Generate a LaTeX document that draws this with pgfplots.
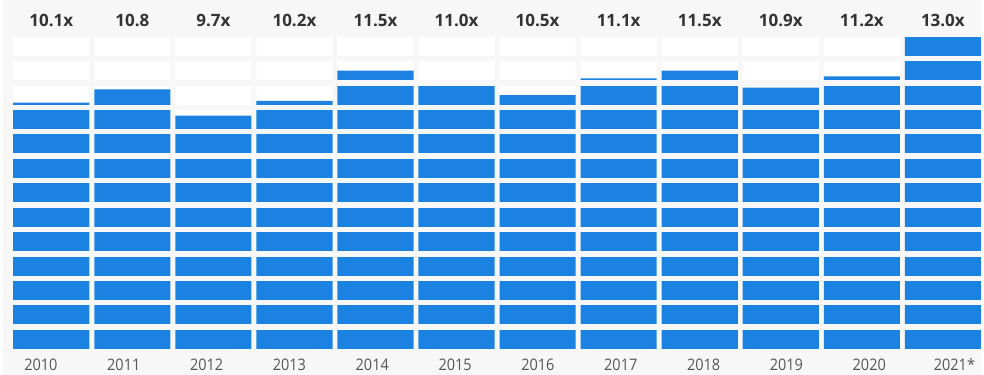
\documentclass[border=0pt]{standalone}
\usepackage{pgfplots}
\usepackage{pgfplotstable}
\pgfplotsset{compat=1.18}
\usepackage{fontspec}
\setmainfont{Open Sans}
\newfontfamily\yearfont[FakeStretch=0.91]{Open Sans}
\definecolor{barblue}{HTML}{1B82E2}
\definecolor{bgcol}{HTML}{F7F7F7}
\definecolor{valtext}{HTML}{333333}
\definecolor{yeartext}{HTML}{555555}

\pgfplotstableread{
x v lab
0 10.1 10.1x
1 10.8 10.8
2 9.7 9.7x
3 10.2 10.2x
4 11.5 11.5x
5 11.0 11.0x
6 10.5 10.5x
7 11.1 11.1x
8 11.5 11.5x
9 10.9 10.9x
10 11.2 11.2x
11 13.0 13.0x
}\valtab

\pgfplotstableread{
xl lab
-0.128 2010
0.894 2011
1.916 2012
2.938 2013
3.960 2014
4.982 2015
6.004 2016
7.026 2017
8.048 2018
9.070 2019
10.092 2020
11.143 2021*
}\yeartab

\begin{document}
\begin{tikzpicture}
\begin{axis}[
  x=61.125pt, y=18.4125pt,
  xmin=-0.5994, xmax=11.4742,
  ymin=-1.0713, ymax=14.2851,
  axis background/.style={fill=bgcol},
  axis line style={draw=none},
  major tick length=0pt,
  xtick=\empty,
  ytick={0.889,1.889,2.889,3.889,4.889,5.889,6.889,7.889,8.889,9.889,10.889,11.889,12.889},
  yticklabels={},
  yticklabel style={inner sep=0pt, outer sep=0pt},
  ymajorgrids,
  major grid style={draw=bgcol, line width=4.09pt},
  axis on top,
  clip=false,
]
% white unit blocks (capacity 13)
\addplot[ybar, bar width=0.939, bar shift=0, fill=white, draw=none]
  table[x=x, y expr=12.778] {\valtab};
% blue fill, partial block scaled to block height
\addplot[ybar, bar width=0.939, bar shift=0, fill=barblue, draw=none]
  table[x=x, y expr={ceil(\thisrow{v}) - 1 + (\thisrow{v}-ceil(\thisrow{v})+1)*0.778}] {\valtab};
% value labels
\addplot[draw=none, mark=none, nodes near coords, point meta=explicit symbolic,
  every node near coord/.append style={anchor=base, inner sep=0pt, font=\fontsize{12.8}{15}\selectfont\bfseries, text=valtext}]
  table[x=x, y expr=13.185, meta=lab] {\valtab};
% year labels
\addplot[draw=none, mark=none, nodes near coords, point meta=explicit symbolic,
  every node near coord/.append style={anchor=base, inner sep=0pt, font=\fontsize{12}{14}\selectfont\yearfont, text=yeartext}]
  table[x=xl, y expr=-0.908, meta=lab] {\yeartab};
\end{axis}
\end{tikzpicture}
\end{document}
